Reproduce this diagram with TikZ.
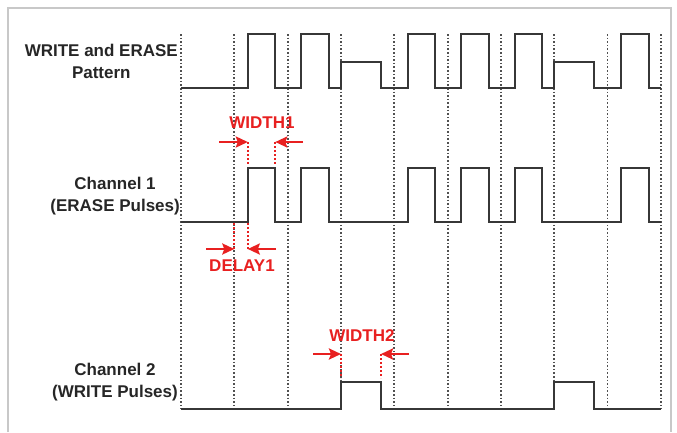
\documentclass[tikz,border=0pt]{standalone}
\usepackage{fontspec}
\setmainfont{Liberation Sans}
\usetikzlibrary{arrows.meta, positioning}
\definecolor{wavegray}{RGB}{55,55,55}
\definecolor{gridgray}{RGB}{80,80,80}
\definecolor{framegray}{RGB}{200,200,200}
\definecolor{markred}{RGB}{232,32,32}

\begin{document}
\begin{tikzpicture}[
    x=1pt, y=-1pt,
    >=Stealth,
    font=\bfseries\fontsize{17}{22}\selectfont,
    chan/.style    = {align=center, anchor=east, inner sep=0pt, text=black!85},
    wave/.style    = {wavegray, line width=2pt, line join=miter},
    gridln/.style  = {gridgray, line width=1.7pt, dash pattern=on 1.6pt off 2pt},
    redmark/.style = {markred, line width=1.7pt, dash pattern=on 1.6pt off 2.4pt},
    arr/.style     = {-{Stealth[length=12pt, width=11pt, inset=2pt]}, markred, line width=2.8pt},
    lbl/.style     = {text=markred, inner sep=0pt},
]
\useasboundingbox (0,0) rectangle (677,432);

% ---------------- frame ----------------
\draw[framegray, line width=1.5pt] (8,432) -- (8,8) -- (671,8) -- (671,432);

% ---------------- time grid ----------------
\foreach \i in {0,...,9}
  \draw[gridln] (181+53.33*\i,34) -- (181+53.33*\i,409);

% ---------------- labels ----------------
\node[chan] (lpat) at (178,61)  {WRITE and ERASE\\Pattern};
\node[chan] (lch1) at (180,196) {Channel 1\\(ERASE Pulses)};
\node[chan] (lch2) at (178,382) {Channel 2\\(WRITE Pulses)};

% ---------------- waveforms ----------------
\draw[wave] (181,88) foreach \a/\b/\h in {247.8/275.3/34, 301.2/328.7/34, 341/381/62,
    407.8/435.3/34, 461.2/488.7/34, 514.5/542/34, 554.3/594.3/62, 621.2/648.7/34}
  { -- (\a,88) -- (\a,\h) -- (\b,\h) -- (\b,88) } -- (661,88);
\draw[wave] (181,222) foreach \a/\b in {247.8/275.3, 301.2/328.7, 407.8/435.3,
    461.2/488.7, 514.5/542, 621.2/648.7}
  { -- (\a,222) -- (\a,168) -- (\b,168) -- (\b,222) } -- (661,222);
\draw[wave] (181,409) foreach \a/\b in {341/381, 554.3/594.3}
  { -- (\a,409) -- (\a,382) -- (\b,382) -- (\b,409) } -- (661,409);

% ---------------- WIDTH1 ----------------
\node[lbl] (wid1) at (262,123) {WIDTH1};
\coordinate (w1l) at (219,142);
\coordinate (w1r) at (303,142);
\coordinate (w1a) at (247.8,142);
\coordinate (w1b) at (275.3,142);
\draw[redmark] (w1a) -- ++(0,23);
\draw[redmark] (w1b) -- ++(0,23);
\draw[arr] (w1l) -- (w1a);
\draw[arr] (w1r) -- (w1b);

% ---------------- DELAY1 ----------------
\node[lbl] (del1) at (242,266) {DELAY1};
\coordinate (d1l) at (206,249);
\coordinate (d1r) at (276,249);
\coordinate (d1a) at (234.3,249);
\coordinate (d1b) at (247.8,249);
\draw[redmark] (d1a) -- ++(0,-26);
\draw[redmark] (d1b) -- ++(0,-26);
\draw[arr] (d1l) -- (d1a);
\draw[arr] (d1r) -- (d1b);

% ---------------- WIDTH2 ----------------
\node[lbl] (wid2) at (362,336) {WIDTH2};
\coordinate (w2l) at (313,354);
\coordinate (w2r) at (409,354);
\coordinate (w2a) at (341,354);
\coordinate (w2b) at (381,354);
\draw[redmark] (w2a) -- ++(0,24);
\draw[redmark] (w2b) -- ++(0,24);
\draw[arr] (w2l) -- (w2a);
\draw[arr] (w2r) -- (w2b);

\end{tikzpicture}
\end{document}
